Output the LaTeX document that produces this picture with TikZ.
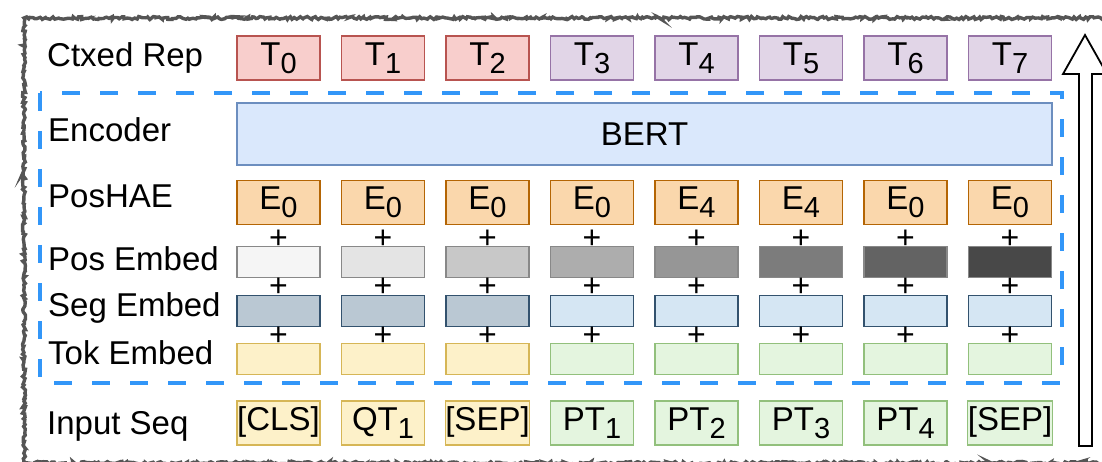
\documentclass[tikz,border=0pt]{standalone}
\usepackage{fontspec}
\setmainfont{Liberation Sans}
\usetikzlibrary{decorations.pathmorphing}
\definecolor{ctxrF}{HTML}{F8CECC}\definecolor{ctxrD}{HTML}{B85450}
\definecolor{ctxpF}{HTML}{E1D5E7}\definecolor{ctxpD}{HTML}{9673A6}
\definecolor{bertF}{HTML}{DAE8FC}\definecolor{bertD}{HTML}{6C8EBF}
\definecolor{haeF}{HTML}{FAD7AC}\definecolor{haeD}{HTML}{B46504}
\definecolor{segdF}{HTML}{BAC8D3}\definecolor{seglF}{HTML}{D5E6F3}\definecolor{segD}{HTML}{33526E}
\definecolor{tokyF}{HTML}{FDF1C9}\definecolor{tokyD}{HTML}{D6B656}
\definecolor{tokgF}{HTML}{E4F5DF}\definecolor{tokgD}{HTML}{92C07C}
\definecolor{posD}{HTML}{888888}
\definecolor{pos0}{HTML}{F5F5F5}\definecolor{pos1}{HTML}{E4E4E4}
\definecolor{pos2}{HTML}{C8C8C8}\definecolor{pos3}{HTML}{ADADAD}
\definecolor{pos4}{HTML}{969696}\definecolor{pos5}{HTML}{7C7C7C}
\definecolor{pos6}{HTML}{636363}\definecolor{pos7}{HTML}{484848}
\definecolor{blueD}{HTML}{3296F8}
\definecolor{frameC}{HTML}{555555}
\newcommand\sbx[1]{\raisebox{-8pt}{\fontsize{29}{29}\selectfont #1}}
\tikzset{
  lbl/.style={anchor=base west, inner sep=0pt, font=\fontsize{33}{33}\selectfont},
  tbox/.style={draw, line width=1.3pt, minimum width=83pt, inner sep=0pt,
     font=\fontsize{33}{33}\selectfont, text height=23pt, text depth=8pt},
  tall/.style={tbox, minimum height=44pt},
  flat/.style={tbox, minimum height=22pt},
  plus/.style={inner sep=0pt, font=\fontsize{32}{32}\selectfont},
}
\begin{document}
\begin{tikzpicture}[x=1pt,y=-1pt]
\useasboundingbox (0,0) rectangle (1102,462);
\clip (0,0) rectangle (1102,462);
% outer sketchy frame
\draw[frameC, line width=3.4pt, decorate,
  decoration={random steps,segment length=2pt,amplitude=1.5pt}]
  (24,18) rectangle (1125,463);
% blue dashed region
\draw[blueD, line width=4.5pt, dash pattern=on 18pt off 20pt]
  (40,93) rectangle (1062,383);
% labels
\node[lbl] (lctx) at (47,67) {Ctxed Rep};
\node[lbl] (lenc) at (48,142) {Encoder};
\node[lbl] (lhae) at (48,208) {PosHAE};
\node[lbl] (lpos) at (48,270) {Pos Embed};
\node[lbl] (lseg) at (48,316) {Seg Embed};
\node[lbl] (ltok) at (48,364) {Tok Embed};
\node[lbl] (linp) at (47,434) {Input Seq};
% BERT
\node[draw=bertD, fill=bertF, line width=1.3pt, minimum width=815pt, minimum height=62pt,
  font=\fontsize{33}{33}\selectfont] (bert) at (644.5,134) {BERT};
% columns
\foreach \i/\ct/\ctc/\hae/\segc/\tokc/\inp in {
  0/0/ctxr/0/segd/toky/{[CLS]},
  1/1/ctxr/0/segd/toky/{QT\sbx{1}},
  2/2/ctxr/0/segd/toky/{[SEP]},
  3/3/ctxp/0/segl/tokg/{PT\sbx{1}},
  4/4/ctxp/4/segl/tokg/{PT\sbx{2}},
  5/5/ctxp/4/segl/tokg/{PT\sbx{3}},
  6/6/ctxp/0/segl/tokg/{PT\sbx{4}},
  7/7/ctxp/0/segl/tokg/{[SEP]}}{
  \pgfmathsetmacro{\cx}{278.5+104.5*\i}
  \ifnum\i<3 \def\tokd{tokyD}\else\def\tokd{tokgD}\fi
  \ifnum\i<3 \def\ctd{ctxrD}\else\def\ctd{ctxpD}\fi
  \node[tall, fill=\ctc F, draw=\ctd] (t\i) at (\cx,58) {T\sbx{\ct}};
  \node[tall, fill=haeF, draw=haeD] (e\i) at (\cx,202.5) {E\sbx{\hae}};
  \node[plus] (pa\i) at (\cx,239) {+};
  \node[flat, fill=pos\i, draw=posD] (pe\i) at (\cx,262) {};
  \node[plus] (pb\i) at (\cx,287) {+};
  \node[flat, fill=\segc F, draw=segD] (se\i) at (\cx,311) {};
  \node[plus] (pc\i) at (\cx,336) {+};
  \node[flat, fill=\tokc F, draw=\tokd] (te\i) at (\cx,359) {};
  \node[tall, fill=\tokc F, draw=\tokd] (in\i) at (\cx,423) {\inp};
}
% big hollow arrow
\draw[black, line width=1.8pt, fill=white, line join=miter]
  (1079,446) -- (1079,74) -- (1063,74) -- (1085,35) -- (1107,74)
  -- (1092,74) -- (1092,446) -- cycle;
\end{tikzpicture}
\end{document}
